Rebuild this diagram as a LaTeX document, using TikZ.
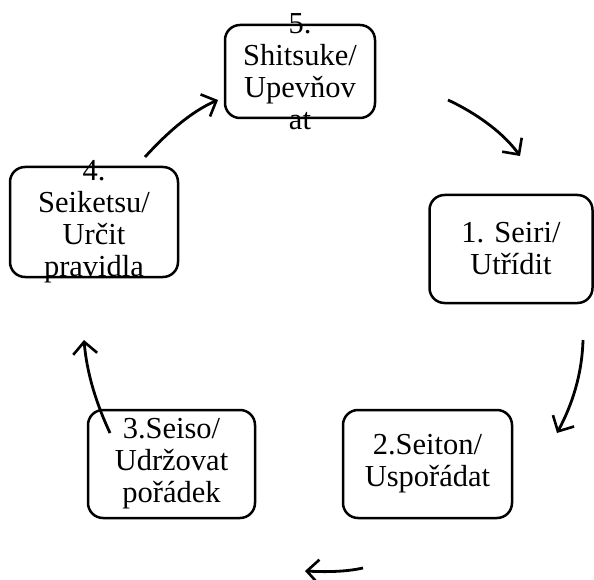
\documentclass[tikz,border=0pt]{standalone}
\usepackage{fontspec}
\setmainfont{Liberation Serif}
\usepackage{tikz}
\usetikzlibrary{arrows.meta}
\definecolor{mydark}{RGB}{0,0,0}
\tikzset{
  stepbox/.style={rectangle, draw=mydark, fill=none,
    rounded corners=15pt, line width=2.5pt},
  steptext/.style={align=center, inner sep=0pt, text=mydark,
    font=\fontsize{30.5}{32}\selectfont},
  cyclearrow/.style={-{Straight Barb[length=12pt,width=24pt,line width=2.6pt]},
    line width=2.8pt, color=mydark}
}
\begin{document}
\begin{tikzpicture}[x=1pt, y=-1pt]
  \useasboundingbox (0,0) rectangle (594,580);
  % boxes
  \node[stepbox, minimum width=150pt, minimum height=93pt] (s5) at (300,71.5) {};
  \node[stepbox, minimum width=163pt, minimum height=108pt] (s1) at (511,249) {};
  \node[stepbox, minimum width=169pt, minimum height=108pt] (s2) at (427.5,464) {};
  \node[stepbox, minimum width=167pt, minimum height=108pt] (s3) at (171.5,464) {};
  \node[stepbox, minimum width=168pt, minimum height=110pt] (s4) at (94,222) {};
  % texts
  \node[steptext] (t5) at (s5.center) {5.\\Shitsuke/\\Upevňov\\at};
  \node[steptext] (t1) at (s1.center) {1. Seiri/\\Utřídit};
  \node[steptext] (t2) at (s2.center) {2.Seiton/\\Uspořádat};
  \node[steptext] (t3) at (s3.center) {3.Seiso/\\Udržovat\\pořádek};
  \node[steptext] (t4) at (s4.center) {4.\\Seiketsu/\\Určit\\pravidla};
  % arrow ends
  \coordinate (a51) at (448,100);  \coordinate (b51) at (520,156);
  \coordinate (a12) at (583,340);  \coordinate (b12) at (557,433);
  \coordinate (a23) at (363,568);  \coordinate (b23) at (305,571);
  \coordinate (a34) at (110,433);  \coordinate (b34) at (84,340);
  \coordinate (a45) at (145,157);  \coordinate (b45) at (218,100);
  % cycle arrows
  \draw[cyclearrow] (a51) .. controls (480,115) and (505,135) .. (b51);
  \draw[cyclearrow] (a12) .. controls (582,375) and (572,405) .. (b12);
  \draw[cyclearrow] (a23) .. controls (345,572) and (325,572) .. (b23);
  \draw[cyclearrow] (a34) .. controls (97,405) and (87,375) .. (b34);
  \draw[cyclearrow] (a45) .. controls (165,135) and (190,112) .. (b45);
\end{tikzpicture}
\end{document}
